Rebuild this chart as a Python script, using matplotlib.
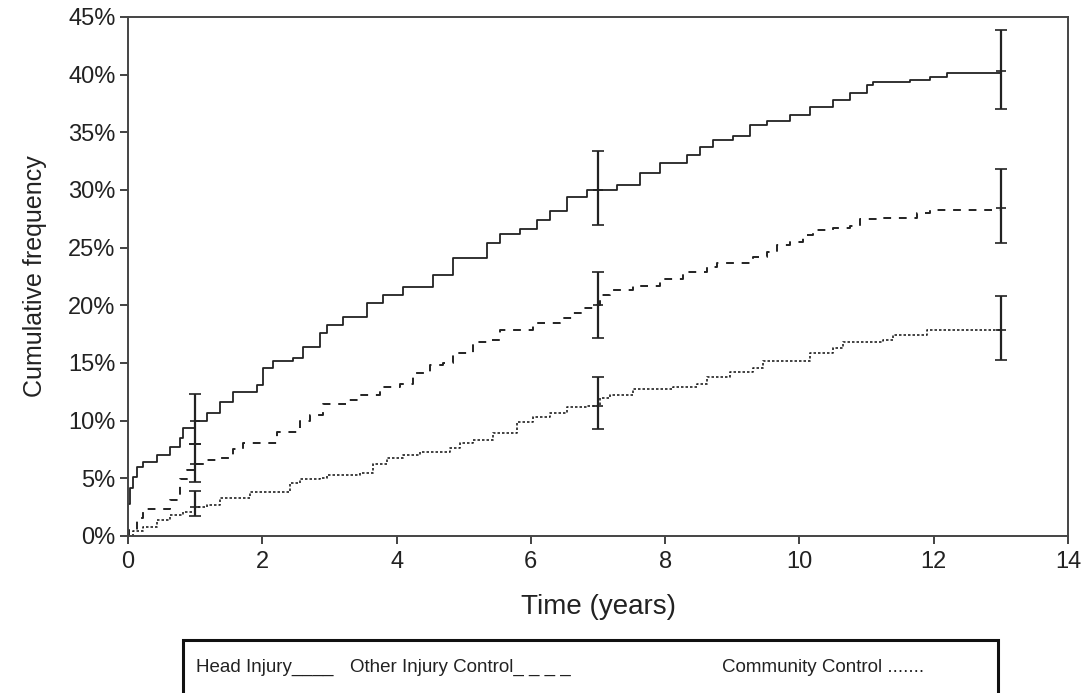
import matplotlib
matplotlib.use("Agg")
import matplotlib.pyplot as plt
from matplotlib.patches import Rectangle
from matplotlib.ticker import FuncFormatter

plt.rcParams['font.family'] = ['Liberation Sans', 'DejaVu Sans']

# Head injury (solid)
head_t = [0.0, 0.03, 0.07, 0.13, 0.22, 0.43, 0.63, 0.77, 0.82, 1.0, 1.18, 1.37, 1.56, 1.92,
          2.01, 2.16, 2.46, 2.61, 2.86, 2.96, 3.20, 3.56, 3.80, 4.10, 4.54, 4.84, 5.35, 5.54,
          5.84, 6.09, 6.29, 6.54, 6.84, 7.28, 7.63, 7.92, 8.33, 8.52, 8.71, 9.01, 9.26, 9.52,
          9.86, 10.16, 10.50, 10.75, 11.01, 11.10, 11.65, 11.95, 12.20, 13.0]
head_v = [2.8, 4.2, 5.1, 6.0, 6.4, 7.0, 7.7, 8.5, 9.4, 10.0, 10.7, 11.6, 12.5, 13.1,
          14.6, 15.2, 15.4, 16.4, 17.6, 18.3, 19.0, 20.2, 20.9, 21.6, 22.6, 24.1, 25.4, 26.2,
          26.6, 27.4, 28.2, 29.4, 30.0, 30.4, 31.5, 32.3, 33.0, 33.7, 34.3, 34.7, 35.6, 36.0,
          36.5, 37.2, 37.8, 38.4, 39.1, 39.4, 39.5, 39.8, 40.1, 40.3]

# Other injury control (dashed)
other_t = [0.0, 0.02, 0.13, 0.22, 0.63, 0.77, 0.88, 1.0, 1.18, 1.37, 1.56, 1.71, 2.22, 2.56,
           2.71, 2.90, 3.26, 3.46, 3.75, 4.05, 4.24, 4.50, 4.69, 4.84, 5.14, 5.35, 5.54, 6.03,
           6.43, 6.63, 6.78, 6.99, 7.03, 7.18, 7.52, 7.92, 8.27, 8.62, 8.77, 9.31, 9.52, 9.67,
           9.86, 10.05, 10.20, 10.50, 10.75, 10.90, 11.16, 11.75, 11.95, 13.0]
other_v = [0.0, 0.5, 1.6, 2.3, 3.1, 4.9, 5.7, 6.2, 6.6, 6.8, 7.5, 8.1, 9.0, 10.0,
           10.5, 11.4, 11.8, 12.2, 12.9, 13.2, 14.1, 14.8, 15.0, 15.9, 16.8, 17.0, 17.9, 18.5,
           18.9, 19.3, 19.8, 20.0, 20.9, 21.3, 21.7, 22.3, 22.9, 23.3, 23.7, 24.2, 24.6, 25.2,
           25.5, 26.1, 26.5, 26.7, 26.9, 27.5, 27.6, 28.0, 28.3, 28.4]

# Community control (dotted)
comm_t = [0.0, 0.07, 0.22, 0.43, 0.63, 0.82, 1.0, 1.18, 1.37, 1.82, 2.42, 2.56, 2.86, 2.96,
          3.46, 3.65, 3.86, 4.10, 4.35, 4.80, 4.95, 5.14, 5.44, 5.80, 6.03, 6.29, 6.54, 6.84,
          7.03, 7.18, 7.52, 8.12, 8.47, 8.62, 8.97, 9.31, 9.46, 10.16, 10.50, 10.65, 11.25,
          11.40, 11.90, 13.0]
comm_v = [0.0, 0.4, 0.8, 1.4, 1.8, 2.1, 2.5, 2.7, 3.3, 3.8, 4.6, 4.9, 5.0, 5.3,
          5.5, 6.2, 6.8, 7.0, 7.3, 7.6, 8.1, 8.3, 8.9, 9.9, 10.3, 10.7, 11.2, 11.3,
          12.0, 12.2, 12.7, 12.9, 13.2, 13.8, 14.2, 14.6, 15.2, 15.9, 16.3, 16.8, 17.0,
          17.4, 17.9, 17.9]

# confidence intervals at 1, 7 and 13 years
ci_t = [1, 7, 13]
head_mid, head_lo, head_hi = [10.0, 30.0, 40.3], [8.0, 27.0, 37.0], [12.3, 33.4, 43.9]
other_mid, other_lo, other_hi = [6.2, 20.0, 28.4], [4.7, 17.2, 25.4], [8.0, 22.9, 31.8]
comm_mid, comm_lo, comm_hi = [2.5, 11.3, 17.9], [1.7, 9.3, 15.3], [3.9, 13.8, 20.8]

legend_labels = ['Head Injury____', 'Other Injury Control_ _ _ _', 'Community Control .......']

col = '#222222'
fig = plt.figure(figsize=(10.81, 6.93), dpi=100)
ax = fig.add_axes([0.1184, 0.2266, 0.8696, 0.7489])

ax.plot(head_t, head_v, color=col, lw=1.3, drawstyle='steps-post')
ax.plot(other_t, other_v, color=col, lw=1.4, drawstyle='steps-post', dashes=(4, 4))
ax.plot(comm_t, comm_v, color=col, lw=1.2, drawstyle='steps-post', dashes=(1.5, 1.2))

for mid, lo, hi in [(head_mid, head_lo, head_hi), (other_mid, other_lo, other_hi),
                    (comm_mid, comm_lo, comm_hi)]:
    yerr = [[m - l for m, l in zip(mid, lo)], [h - m for m, h in zip(mid, hi)]]
    ax.errorbar(ci_t, mid, yerr=yerr, fmt='_', color=col, ms=7, mew=1.2,
                elinewidth=1.6, capsize=4, capthick=1.6)

ax.set_xlim(0, 14)
ax.set_ylim(0, 45)
ax.set_xticks(range(0, 15, 2))
ax.set_yticks(range(0, 46, 5))
ax.yaxis.set_major_formatter(FuncFormatter(lambda v, p: f'{v:.0f}%'))
ax.tick_params(direction='out', length=6, width=1.2, colors=col, labelsize=17)
ax.tick_params(axis='x', pad=5)
ax.tick_params(axis='y', pad=3)
for s in ax.spines.values():
    s.set_color('#444444')
    s.set_linewidth(1.4)
ax.set_xlabel('Time (years)', fontsize=20, color=col, labelpad=15)
ax.set_ylabel('Cumulative frequency', fontsize=18, color=col, labelpad=15)

# legend box drawn as text, running off the bottom edge
fig.patches.append(Rectangle((0.1693, -0.05), 0.754, 0.1265, transform=fig.transFigure,
                             fill=False, edgecolor='#111111', lw=2.2, clip_on=False))
fy = 0.037
for xpos, lab in zip([196, 350, 722], legend_labels):
    fig.text(xpos / 1081, fy, lab, fontsize=13.5, color=col, va='center')

fig.savefig('out.png', dpi=100)
